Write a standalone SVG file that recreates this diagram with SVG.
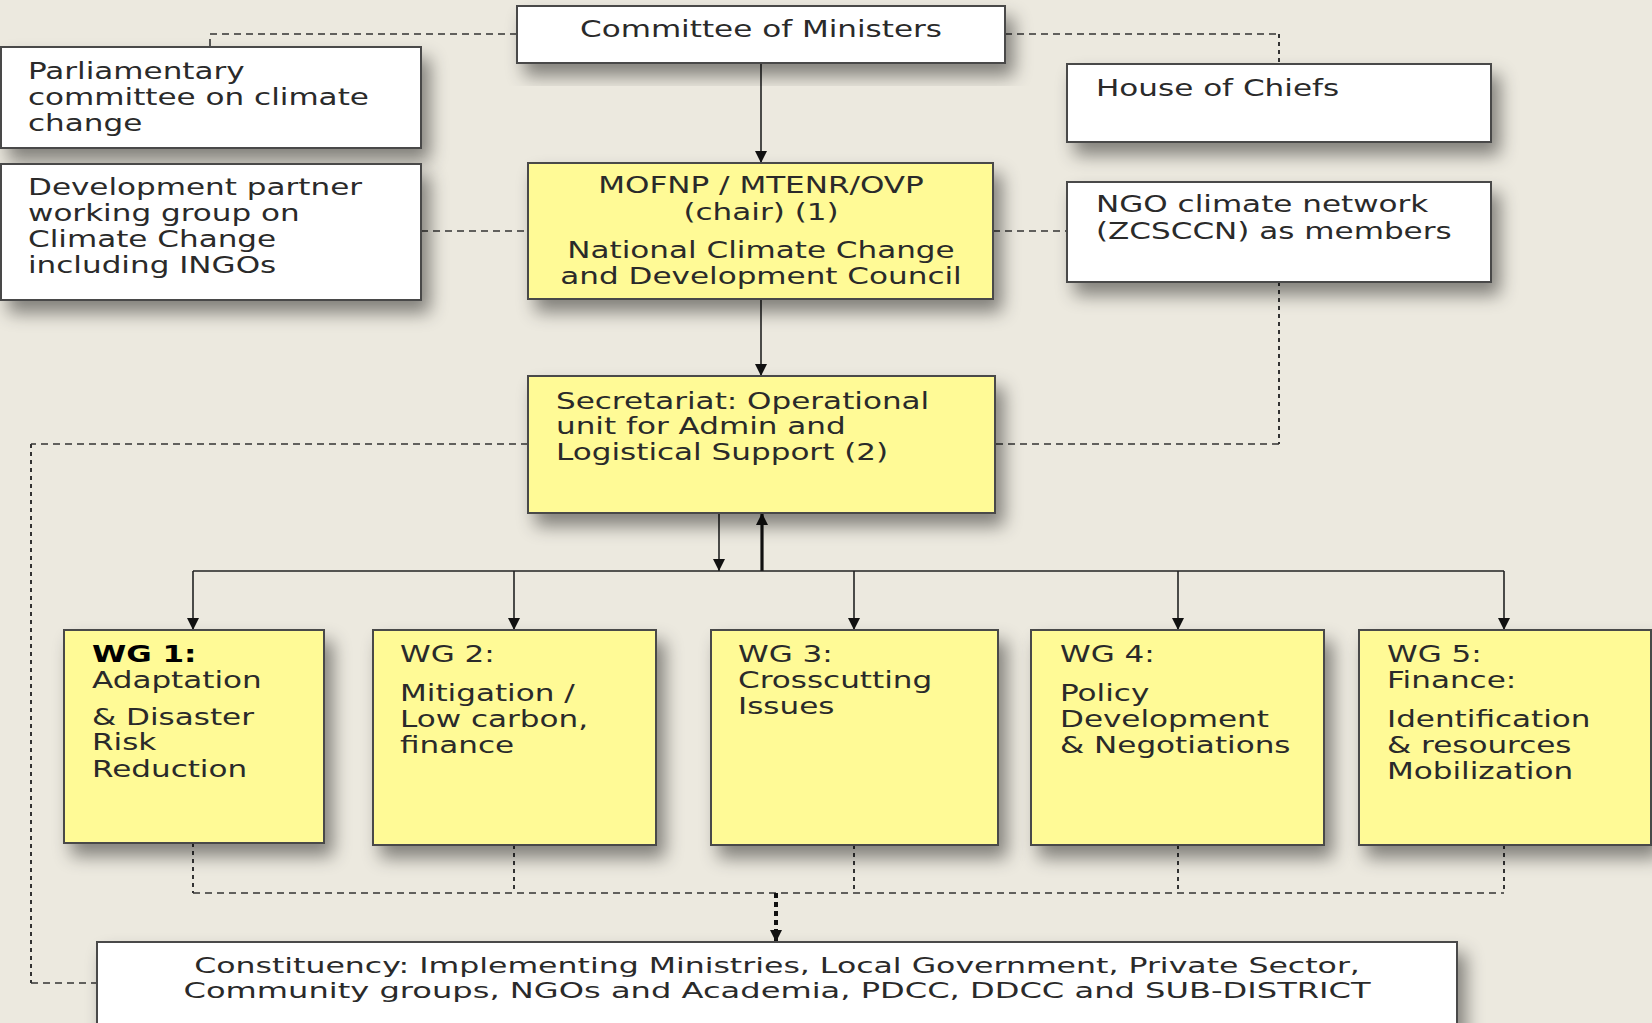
<svg xmlns="http://www.w3.org/2000/svg" width="1652" height="1023" viewBox="0 0 1652 1023">
<defs>
<filter id="sh" x="-10%" y="-20%" width="130%" height="160%">
<feDropShadow dx="8" dy="12" stdDeviation="9" flood-color="#000" flood-opacity="0.45"/>
</filter>
<marker id="ah" viewBox="0 0 10 10" markerUnits="userSpaceOnUse" markerWidth="12" markerHeight="15" refX="10" refY="5" orient="auto">
<path d="M0,0 L10,5 L0,10 z" fill="#111"/>
</marker>
<style>
.bw{fill:#ffffff;stroke:#4a4a4a;stroke-width:2;filter:url(#sh)}
.by{fill:#fffa96;stroke:#4a4a4a;stroke-width:2;filter:url(#sh)}
.t{font-family:"DejaVu Sans",Verdana,"Liberation Sans",sans-serif;font-size:23px;fill:#2a2a2a}
.ts{font-family:"DejaVu Sans",Verdana,"Liberation Sans",sans-serif;font-size:22px;fill:#2a2a2a}
.b{font-weight:bold;fill:#000}
.sl{fill:none;stroke:#222;stroke-width:1.6}
.tk{fill:none;stroke:#111;stroke-width:3.2}
.dh{fill:none;stroke:#333;stroke-width:1.6;stroke-dasharray:7 5}
.dv{fill:none;stroke:#333;stroke-width:2;stroke-dasharray:4 4}
.dt{fill:none;stroke:#111;stroke-width:4;stroke-dasharray:5 4}
</style>
</defs>
<rect x="0" y="0" width="1652" height="1023" fill="#ece9df"/>

<g id="connectors">
<path class="dh" d="M517,34 H210 V47"/>
<path class="dh" d="M1005,34 H1279"/>
<path class="dv" d="M1279,34 V64"/>
<path class="dh" d="M421,231 H528"/>
<path class="dh" d="M993,231 H1067"/>
<path class="dv" d="M1279,282 V444"/>
<path class="dh" d="M1279,444 H995"/>
<path class="dh" d="M528,444 H31"/>
<path class="dv" d="M31,444 V983"/>
<path class="dh" d="M31,983 H97"/>
<path class="dv" d="M193,843 V893 M514,845 V893 M854,845 V893 M1178,845 V893 M1504,845 V893"/>
<path class="dh" d="M193,893 H1504"/>
<path class="dt" d="M776,893 V942" marker-end="url(#ah)"/>
<path class="sl" d="M761,63 V163" marker-end="url(#ah)"/>
<path class="sl" d="M761,299 V376" marker-end="url(#ah)"/>
<path class="sl" d="M719,513 V571" marker-end="url(#ah)"/>
<path class="tk" d="M762,571 V513" marker-end="url(#ah)"/>
<path class="sl" d="M193,571 H1504"/>
<path class="sl" d="M193,571 V630" marker-end="url(#ah)"/>
<path class="sl" d="M514,571 V630" marker-end="url(#ah)"/>
<path class="sl" d="M854,571 V630" marker-end="url(#ah)"/>
<path class="sl" d="M1178,571 V630" marker-end="url(#ah)"/>
<path class="sl" d="M1504,571 V630" marker-end="url(#ah)"/>
</g>

<g id="committee">
<rect class="bw" x="517" y="6" width="488" height="57"/>
<text class="t" transform="matrix(1.35 0 0 1 761 0)" x="0" y="37" text-anchor="middle">Committee of Ministers</text>
</g>

<g id="parliamentary">
<rect class="bw" x="1" y="47" width="420" height="101"/>
<text class="t" transform="matrix(1.35 0 0 1 28 0)"><tspan x="0" y="79">Parliamentary</tspan><tspan x="0" y="105">committee on climate</tspan><tspan x="0" y="131">change</tspan></text>
</g>

<g id="devpartner">
<rect class="bw" x="1" y="164" width="420" height="136"/>
<text class="t" transform="matrix(1.35 0 0 1 28 0)"><tspan x="0" y="195">Development partner</tspan><tspan x="0" y="221">working group on</tspan><tspan x="0" y="247">Climate Change</tspan><tspan x="0" y="273">including INGOs</tspan></text>
</g>

<g id="house">
<rect class="bw" x="1067" y="64" width="424" height="78"/>
<text class="t" transform="matrix(1.35 0 0 1 1096 0)" x="0" y="96">House of Chiefs</text>
</g>

<g id="ngo">
<rect class="bw" x="1067" y="182" width="424" height="100"/>
<text class="t" transform="matrix(1.35 0 0 1 1096 0)"><tspan x="0" y="212">NGO climate network</tspan><tspan x="0" y="239">(ZCSCCN) as members</tspan></text>
</g>

<g id="council">
<rect class="by" x="528" y="163" width="465" height="136"/>
<text class="t" transform="matrix(1.35 0 0 1 761 0)" text-anchor="middle"><tspan x="0" y="193">MOFNP / MTENR/OVP</tspan><tspan x="0" y="220">(chair) (1)</tspan><tspan x="0" y="258">National Climate Change</tspan><tspan x="0" y="284">and Development Council</tspan></text>
</g>

<g id="secretariat">
<rect class="by" x="528" y="376" width="467" height="137"/>
<text class="t" transform="matrix(1.35 0 0 1 556 0)"><tspan x="0" y="409">Secretariat: Operational</tspan><tspan x="0" y="434">unit for Admin and</tspan><tspan x="0" y="460">Logistical Support (2)</tspan></text>
</g>

<g id="wg1">
<rect class="by" x="64" y="630" width="260" height="213"/>
<text class="t" transform="matrix(1.35 0 0 1 92 0)"><tspan class="b" x="0" y="662">WG 1:</tspan><tspan x="0" y="688">Adaptation</tspan><tspan x="0" y="725">&amp; Disaster</tspan><tspan x="0" y="750">Risk</tspan><tspan x="0" y="777">Reduction</tspan></text>
</g>

<g id="wg2">
<rect class="by" x="373" y="630" width="283" height="215"/>
<text class="t" transform="matrix(1.35 0 0 1 400 0)"><tspan x="0" y="662">WG 2:</tspan><tspan x="0" y="701">Mitigation /</tspan><tspan x="0" y="727">Low carbon,</tspan><tspan x="0" y="753">finance</tspan></text>
</g>

<g id="wg3">
<rect class="by" x="711" y="630" width="287" height="215"/>
<text class="t" transform="matrix(1.35 0 0 1 738 0)"><tspan x="0" y="662">WG 3:</tspan><tspan x="0" y="688">Crosscutting</tspan><tspan x="0" y="714">Issues</tspan></text>
</g>

<g id="wg4">
<rect class="by" x="1031" y="630" width="293" height="215"/>
<text class="t" transform="matrix(1.35 0 0 1 1060 0)"><tspan x="0" y="662">WG 4:</tspan><tspan x="0" y="701">Policy</tspan><tspan x="0" y="727">Development</tspan><tspan x="0" y="753">&amp; Negotiations</tspan></text>
</g>

<g id="wg5">
<rect class="by" x="1359" y="630" width="292" height="215"/>
<text class="t" transform="matrix(1.35 0 0 1 1387 0)"><tspan x="0" y="662">WG 5:</tspan><tspan x="0" y="688">Finance:</tspan><tspan x="0" y="727">Identification</tspan><tspan x="0" y="753">&amp; resources</tspan><tspan x="0" y="779">Mobilization</tspan></text>
</g>

<g id="constituency">
<rect class="bw" x="97" y="942" width="1360" height="90"/>
<text class="ts" transform="matrix(1.435 0 0 1 777 0)" x="0" y="973" text-anchor="middle">Constituency: Implementing Ministries, Local Government, Private Sector,</text>
<text class="ts" transform="matrix(1.46 0 0 1 777 0)" x="0" y="998" text-anchor="middle">Community groups, NGOs and Academia, PDCC, DDCC and SUB-DISTRICT</text>
</g>
</svg>
